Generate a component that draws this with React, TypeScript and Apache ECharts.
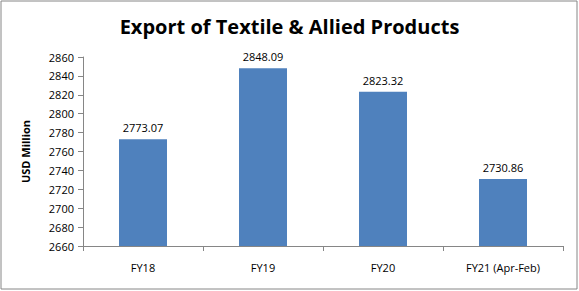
import React, { useEffect, useRef } from "react";
import * as echarts from "echarts";

const categories = ["FY18", "FY19", "FY20", "FY21 (Apr-Feb)"];
const values = [2773.07, 2848.09, 2823.32, 2730.86];
const yMin = 2660;
const yMax = 2860;
const yStep = 20;

export default function App() {
  const ref = useRef<HTMLDivElement>(null);
  useEffect(() => {
    if (!ref.current) return;
    const chart = echarts.init(ref.current, null, { renderer: "svg" });
    const font = "'Open Sans', 'Noto Sans', sans-serif";
    chart.setOption({
      animation: false,
      backgroundColor: "#ffffff",
      title: {
        text: "Export of Textile & Allied Products",
        left: "center",
        top: 11,
        textStyle: { fontFamily: font, fontSize: 20, fontWeight: "bold", color: "#000" },
      },
      grid: { left: 83, right: 16, top: 57, bottom: 45 },
      xAxis: {
        type: "category",
        data: categories,
        axisLine: { lineStyle: { color: "#868686" } },
        axisTick: { show: true, alignWithLabel: false, length: 5, lineStyle: { color: "#868686" } },
        axisLabel: { fontFamily: font, fontSize: 11, color: "#000", margin: 16 },
      },
      yAxis: {
        type: "value",
        min: yMin,
        max: yMax,
        interval: yStep,
        name: "USD Million",
        nameLocation: "middle",
        nameGap: 52,
        nameTextStyle: { fontFamily: font, fontSize: 11, fontWeight: "bold", color: "#000" },
        axisLine: { show: true, lineStyle: { color: "#868686" } },
        axisTick: { show: true, length: 5, lineStyle: { color: "#868686" } },
        splitLine: { show: false },
        axisLabel: {
          fontFamily: font,
          fontSize: 11,
          color: "#000",
          margin: 9,
          formatter: (v: number) => String(v),
        },
      },
      series: [
        {
          type: "bar",
          data: values,
          barWidth: "40%",
          itemStyle: { color: "#4F81BD" },
          label: {
            show: true,
            position: "top",
            distance: 6,
            fontFamily: font,
            fontSize: 11,
            color: "#000",
            formatter: (p: any) => p.value.toFixed(2),
          },
        },
      ],
      graphic: [
        {
          type: "rect",
          shape: { x: 1, y: 1, width: 576, height: 288 },
          style: { fill: "none", stroke: "#868686", lineWidth: 1 },
          silent: true,
        },
      ],
    });
    return () => chart.dispose();
  }, []);
  return <div ref={ref} style={{ width: 579, height: 291, position: "absolute", left: 0, top: 0 }} />;
}
